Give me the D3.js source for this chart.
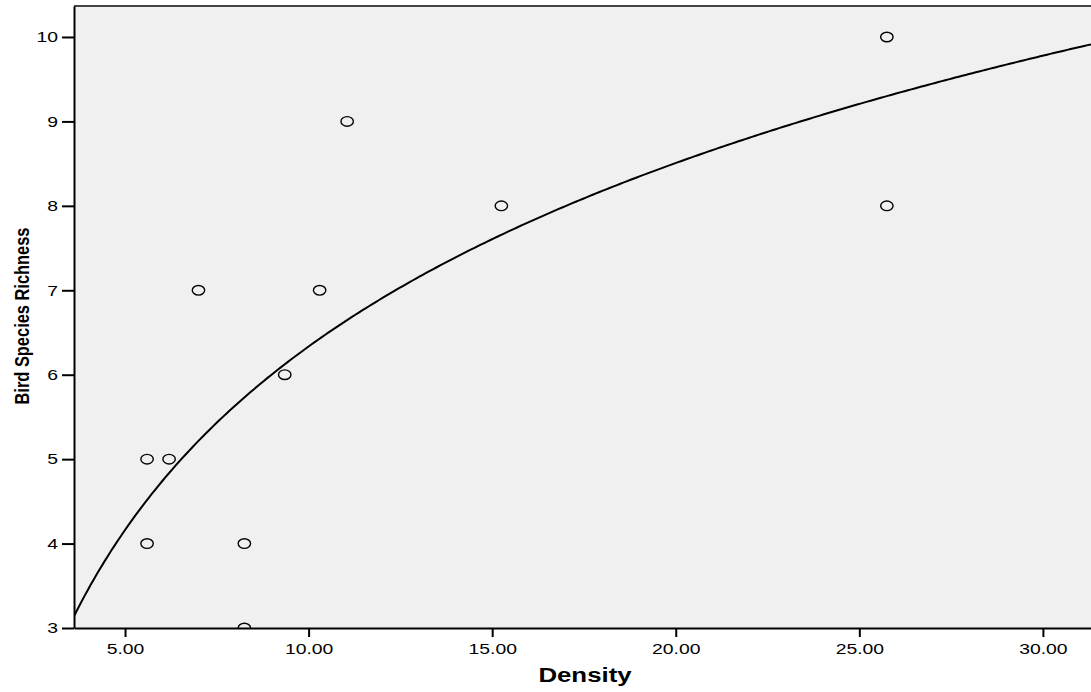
<!DOCTYPE html>
<html>
<head>
<meta charset="utf-8">
<script src="https://cdn.jsdelivr.net/npm/d3@7"></script>
<style>
  body { margin: 0; background: #fff; }
  text { font-family: "Liberation Sans", Arial, sans-serif; fill: #000; }
</style>
</head>
<body>
<div class="graphContainer"></div>
<script>
// data
const density  = [5.6, 6.2, 5.6, 7.0, 8.25, 8.25, 9.35, 10.3, 11.05, 15.25, 25.75, 25.75];
const richness = [5,   5,   4,   7,   4,    3,    6,    7,    9,     8,     10,    8];
const xTicks = [5, 10, 15, 20, 25, 30];
const yTicks = [3, 4, 5, 6, 7, 8, 9, 10];

// layout
const w = 1091, h = 692;
const pLeft = 74, pTop = 6, pRight = 1091, pBottom = 628;
const stretch = 1.29; // text in the original is wider than normal

const svg = d3.select(".graphContainer").append("svg")
  .attr("width", w).attr("height", h);

const xScale = d3.scaleLinear().domain([3.61, 31.31]).range([pLeft, pRight]);
const yScale = d3.scaleLinear().domain([3, 10.367]).range([pBottom, pTop]);

// plot background
svg.append("rect")
  .attr("x", pLeft).attr("y", pTop)
  .attr("width", pRight - pLeft).attr("height", pBottom - pTop)
  .attr("fill", "#f0f0f0");

svg.append("clipPath").attr("id", "plotClip")
  .append("rect")
  .attr("x", pLeft).attr("y", pTop)
  .attr("width", pRight - pLeft).attr("height", pBottom - pTop);

// log fit y = a + b ln(x), least squares on the points
const lx = density.map(Math.log);
const mx = d3.mean(lx), my = d3.mean(richness);
const b = d3.sum(lx, (v, i) => (v - mx) * (richness[i] - my)) / d3.sum(lx, v => (v - mx) * (v - mx));
const a = my - b * mx;
const fitX = d3.range(0, 301).map(i => 3.61 + i * (31.31 - 3.61) / 300);

const plot = svg.append("g").attr("clip-path", "url(#plotClip)");

plot.append("path")
  .datum(fitX)
  .attr("fill", "none")
  .attr("stroke", "#000")
  .attr("stroke-width", 2)
  .attr("d", d3.line().x(d => xScale(d)).y(d => yScale(a + b * Math.log(d))));

plot.selectAll("ellipse")
  .data(density)
  .enter()
  .append("ellipse")
  .attr("cx", d => xScale(d))
  .attr("cy", (d, i) => yScale(richness[i]))
  .attr("rx", 6.2)
  .attr("ry", 4.8)
  .attr("fill", "none")
  .attr("stroke", "#000")
  .attr("stroke-width", 1.4);

// top frame line
svg.append("line")
  .attr("x1", pLeft).attr("x2", pRight)
  .attr("y1", pTop).attr("y2", pTop)
  .attr("stroke", "#444").attr("stroke-width", 2);

// axes
const yAxis = d3.axisLeft(yScale).tickValues(yTicks).tickSizeInner(12).tickSizeOuter(0).tickPadding(4);
const xAxis = d3.axisBottom(xScale).tickValues(xTicks).tickFormat(d3.format(".2f"))
  .tickSizeInner(9).tickSizeOuter(0).tickPadding(6);

const gy = svg.append("g").attr("transform", "translate(" + pLeft + ",0)").call(yAxis);
const gx = svg.append("g").attr("transform", "translate(0," + pBottom + ")").call(xAxis);

[gx, gy].forEach(g => {
  g.select(".domain").attr("stroke", "#000").attr("stroke-width", 2);
  g.selectAll(".tick line").attr("stroke", "#000").attr("stroke-width", 2);
  g.selectAll(".tick text")
    .attr("font-family", "Liberation Sans, Arial, sans-serif")
    .attr("font-size", 15)
    .attr("fill", "#000");
});

// axis titles
svg.append("text")
  .attr("class", "xtext")
  .attr("x", 585).attr("y", 682)
  .attr("text-anchor", "middle")
  .attr("font-size", 20)
  .attr("font-weight", "bold")
  .text("Density");

svg.append("text")
  .attr("class", "ytext")
  .attr("transform", "translate(29,316) scale(1.2,1) rotate(-90)")
  .attr("text-anchor", "middle")
  .attr("font-size", 17.5)
  .attr("font-weight", "bold")
  .attr("textLength", 177)
  .attr("lengthAdjust", "spacingAndGlyphs")
  .text("Bird Species Richness");

// widen horizontal texts to match the original's stretched lettering
svg.selectAll(".tick text, .xtext").each(function() {
  const len = this.getComputedTextLength();
  d3.select(this).attr("textLength", len * stretch).attr("lengthAdjust", "spacingAndGlyphs");
});
</script>
</body>
</html>
